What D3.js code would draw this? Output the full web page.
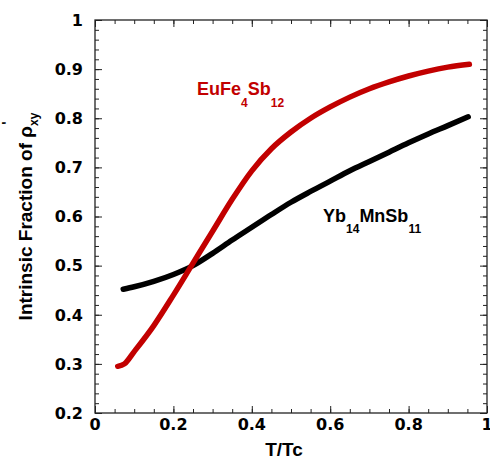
<!DOCTYPE html>
<html>
<head>
<meta charset="utf-8">
<script src="https://cdn.jsdelivr.net/npm/d3@7"></script>
<style>
  html, body { margin: 0; padding: 0; background: #fff; }
  svg { display: block; }
  .tick-label { font-family: "DejaVu Sans", sans-serif; font-weight: bold; font-size: 16px; }
  .title { font-family: "Liberation Sans", Arial, sans-serif; font-weight: bold; }
</style>
</head>
<body>
<svg id="chart" width="490" height="460"></svg>
<script>
// Reduced temperature T/Tc and intrinsic fraction for each compound
const euT = [0.058, 0.075, 0.10, 0.15, 0.20, 0.25, 0.30, 0.35, 0.40, 0.45, 0.50, 0.55, 0.60, 0.65, 0.70, 0.75, 0.80, 0.85, 0.90, 0.955];
const euV = [0.295, 0.300, 0.325, 0.378, 0.440, 0.505, 0.570, 0.635, 0.693, 0.738, 0.772, 0.800, 0.823, 0.843, 0.860, 0.874, 0.886, 0.896, 0.904, 0.910];

const ybT = [0.072, 0.10, 0.15, 0.20, 0.25, 0.30, 0.35, 0.40, 0.45, 0.50, 0.55, 0.60, 0.65, 0.70, 0.75, 0.80, 0.85, 0.90, 0.952];
const ybV = [0.452, 0.457, 0.468, 0.482, 0.500, 0.525, 0.552, 0.578, 0.604, 0.629, 0.651, 0.672, 0.693, 0.712, 0.731, 0.750, 0.768, 0.785, 0.803];

const xTicks = [0, 0.2, 0.4, 0.6, 0.8, 1];
const xTickLabels = ["0", "0.2", "0.4", "0.6", "0.8", "1"];
const yTicks = [0.2, 0.3, 0.4, 0.5, 0.6, 0.7, 0.8, 0.9, 1];
const yTickLabels = ["0.2", "0.3", "0.4", "0.5", "0.6", "0.7", "0.8", "0.9", "1"];

const svg = d3.select("#chart");
const plotL = 95, plotR = 487, plotT = 20, plotB = 413;

const x = d3.scaleLinear().domain([0, 1]).range([plotL, plotR]);
const y = d3.scaleLinear().domain([0.2, 1]).range([plotB, plotT]);

// Minor ticks
const xMinor = d3.range(0, 1.0001, 0.05);
const yMinor = d3.range(0.2, 1.0001, 0.02);

const axisG = svg.append("g");

function inwardAxis(axisFn, scale, ticks, size, transform) {
  axisG.append("g")
    .attr("transform", transform)
    .call(axisFn(scale).tickValues(ticks).tickSize(size).tickFormat(""))
    .call(g => g.select(".domain").remove())
    .call(g => g.selectAll(".tick line").attr("stroke", "#222").attr("stroke-width", 1));
}
// bottom & top (ticks pointing into the plot)
inwardAxis(d3.axisTop, x, xMinor, 4, `translate(0,${plotB})`);
inwardAxis(d3.axisTop, x, xTicks, 7, `translate(0,${plotB})`);
inwardAxis(d3.axisBottom, x, xMinor, 4, `translate(0,${plotT})`);
inwardAxis(d3.axisBottom, x, xTicks, 7, `translate(0,${plotT})`);
// left & right
inwardAxis(d3.axisRight, y, yMinor, 4, `translate(${plotL},0)`);
inwardAxis(d3.axisRight, y, yTicks, 7, `translate(${plotL},0)`);
inwardAxis(d3.axisLeft, y, yMinor, 4, `translate(${plotR},0)`);
inwardAxis(d3.axisLeft, y, yTicks, 7, `translate(${plotR},0)`);

// Frame
svg.append("rect")
  .attr("x", plotL).attr("y", plotT)
  .attr("width", plotR - plotL).attr("height", plotB - plotT)
  .attr("fill", "none").attr("stroke", "#222").attr("stroke-width", 1.3);

// Tick labels
svg.append("g").selectAll("text")
  .data(xTicks)
  .join("text")
  .attr("class", "tick-label")
  .attr("x", d => x(d))
  .attr("y", 430)
  .attr("text-anchor", "middle")
  .text((d, i) => xTickLabels[i]);

svg.append("g").selectAll("text")
  .data(yTicks)
  .join("text")
  .attr("class", "tick-label")
  .attr("x", plotL - 12)
  .attr("y", d => y(d))
  .attr("dy", "0.36em")
  .attr("text-anchor", "end")
  .text((d, i) => yTickLabels[i]);

// Curves
const line = d3.line().curve(d3.curveMonotoneX);
function drawSeries(ts, vs, color) {
  svg.append("path")
    .attr("d", line(ts.map((t, i) => [x(t), y(vs[i])])))
    .attr("fill", "none")
    .attr("stroke", color)
    .attr("stroke-width", 5.5)
    .attr("stroke-linecap", "round")
    .attr("stroke-linejoin", "round");
}
drawSeries(ybT, ybV, "#000");
drawSeries(euT, euV, "#c20000");

// Series labels
const eu = svg.append("text").attr("class", "title")
  .attr("x", 197).attr("y", 95).attr("fill", "#c20000").style("font-size", "18px");
eu.append("tspan").text("EuFe");
eu.append("tspan").attr("dy", 12).style("font-size", "12px").text("4");
eu.append("tspan").attr("dy", -12).text("Sb");
eu.append("tspan").attr("dy", 12).style("font-size", "12px").text("12");

const yb = svg.append("text").attr("class", "title")
  .attr("x", 323).attr("y", 222).attr("fill", "#000").style("font-size", "18px");
yb.append("tspan").text("Yb");
yb.append("tspan").attr("dy", 11).style("font-size", "12px").text("14");
yb.append("tspan").attr("dy", -11).text("MnSb");
yb.append("tspan").attr("dy", 11).style("font-size", "12px").text("11");

// Axis titles
svg.append("text").attr("class", "title")
  .attr("x", 284).attr("y", 456)
  .attr("text-anchor", "middle")
  .style("font-size", "19px")
  .text("T/Tc");

const yt = svg.append("text").attr("class", "title")
  .attr("transform", `translate(32,${(plotT + plotB) / 2}) rotate(-90)`)
  .attr("text-anchor", "middle")
  .style("font-size", "19px");
yt.append("tspan").text("Intrinsic Fraction of ρ");
yt.append("tspan").attr("dy", 6).style("font-size", "12px").text("xy");
yt.append("tspan").attr("dx", -12).attr("dy", -26).style("font-size", "14px").text("'");
</script>
</body>
</html>
